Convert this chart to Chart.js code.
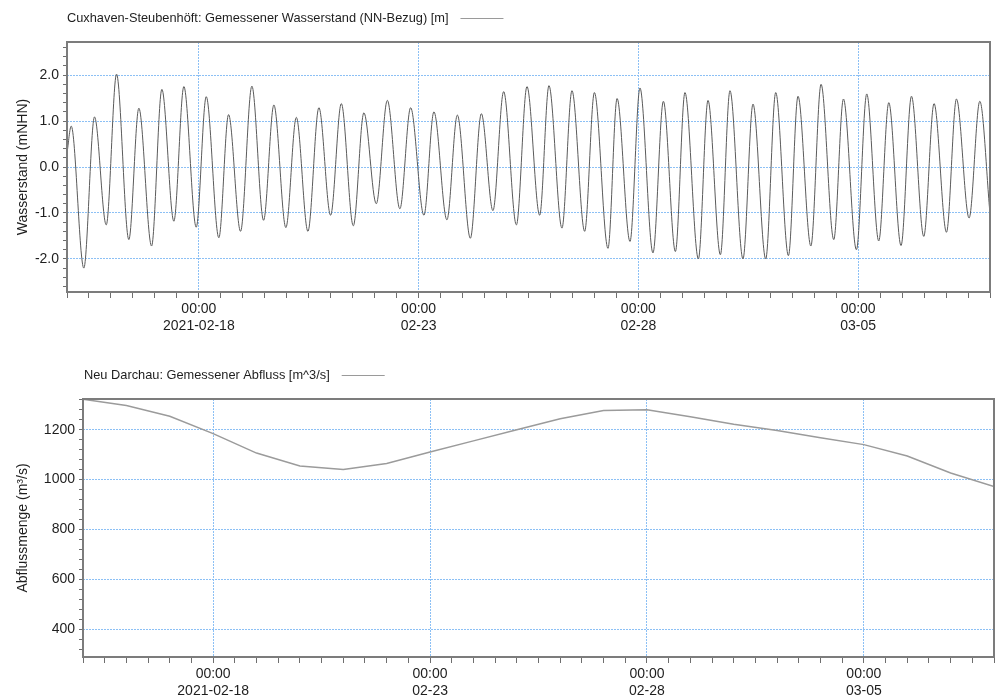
<!DOCTYPE html>
<html>
<head>
<meta charset="utf-8">
<script src="https://cdn.jsdelivr.net/npm/chart.js@4/dist/chart.umd.min.js"></script>
<style>
  html, body { margin: 0; padding: 0; background: #fff; overflow: hidden; width: 995px; height: 697px; }
  .box { position: absolute; left: 0; }
</style>
</head>
<body>
<div class="box" style="top:0"><canvas id="c1" width="995" height="345"></canvas></div>
<div class="box" style="top:345px"><canvas id="c2" width="997" height="352"></canvas></div>
<script>
// ---------- data ----------
const rangeStart = '2021-02-15T00:00';
const rangeEnd   = '2021-03-08T00:00';

const xLabelDates = ['2021-02-18T00:00', '2021-02-23T00:00', '2021-02-28T00:00', '2021-03-05T00:00'];
const xLabelTexts = [['00:00', '2021-02-18'], ['00:00', '02-23'], ['00:00', '02-28'], ['00:00', '03-05']];

const topTitle = 'Cuxhaven-Steubenhöft: Gemessener Wasserstand (NN-Bezug) [m]';
const topAxisTitle = 'Wasserstand (mNHN)';
const topYLabels = [-2.0, -1.0, 0.0, 1.0, 2.0];

// high / low water times and levels
const tideTimes = [
  '2021-02-15T00:00', '2021-02-15T02:18', '2021-02-15T09:11', '2021-02-15T15:01', '2021-02-15T21:26',
  '2021-02-16T03:03', '2021-02-16T09:46', '2021-02-16T15:14', '2021-02-16T22:11',
  '2021-02-17T03:48', '2021-02-17T10:21', '2021-02-17T15:49', '2021-02-17T22:34',
  '2021-02-18T04:02', '2021-02-18T10:55', '2021-02-18T16:13', '2021-02-18T22:46',
  '2021-02-19T04:57', '2021-02-19T11:20', '2021-02-19T16:58', '2021-02-19T23:31',
  '2021-02-20T05:13', '2021-02-20T11:33', '2021-02-20T17:33', '2021-02-20T23:56',
  '2021-02-21T05:47', '2021-02-21T12:20', '2021-02-21T18:07',
  '2021-02-22T00:53', '2021-02-22T06:55', '2021-02-22T13:46', '2021-02-22T19:38',
  '2021-02-23T02:54', '2021-02-23T08:21', '2021-02-23T15:27', '2021-02-23T21:09',
  '2021-02-24T04:15', '2021-02-24T10:15', '2021-02-24T16:35', '2021-02-24T22:26',
  '2021-02-25T05:23', '2021-02-25T11:10', '2021-02-25T18:06', '2021-02-25T23:10',
  '2021-02-26T06:16', '2021-02-26T11:44', '2021-02-26T18:40', '2021-02-26T23:59',
  '2021-02-27T07:24', '2021-02-27T12:22', '2021-02-27T19:25',
  '2021-02-28T00:52', '2021-02-28T07:58', '2021-02-28T13:39', '2021-02-28T20:13',
  '2021-03-01T01:26', '2021-03-01T08:46', '2021-03-01T14:01', '2021-03-01T20:47',
  '2021-03-02T02:01', '2021-03-02T09:07', '2021-03-02T14:35', '2021-03-02T21:32',
  '2021-03-03T03:00', '2021-03-03T09:56', '2021-03-03T15:10', '2021-03-03T22:11',
  '2021-03-04T03:45', '2021-03-04T10:41', '2021-03-04T15:58', '2021-03-04T23:04',
  '2021-03-05T04:42', '2021-03-05T11:15', '2021-03-05T16:44', '2021-03-05T23:25',
  '2021-03-06T05:07', '2021-03-06T11:50', '2021-03-06T17:27',
  '2021-03-07T00:14', '2021-03-07T05:41', '2021-03-07T12:35', '2021-03-07T18:26',
  '2021-03-08T00:00'
];
const tideLevels = [
  0.30, 0.89, -2.20, 1.09, -1.26,
  2.02, -1.58, 1.28, -1.72,
  1.69, -1.18, 1.75, -1.31,
  1.53, -1.54, 1.14, -1.40,
  1.76, -1.16, 1.35, -1.32,
  1.08, -1.40, 1.29, -1.05,
  1.38, -1.28, 1.18,
  -0.80, 1.45, -0.91, 1.29,
  -1.05, 1.20, -1.15, 1.13,
  -1.55, 1.16, -0.95, 1.64,
  -1.26, 1.75, -1.05, 1.77,
  -1.33, 1.66, -1.40, 1.62,
  -1.77, 1.49, -1.62,
  1.72, -1.87, 1.43, -1.84,
  1.62, -2.00, 1.45, -1.91,
  1.66, -2.00, 1.37, -2.00,
  1.62, -1.93, 1.54, -1.72,
  1.80, -1.58, 1.48, -1.80,
  1.59, -1.61, 1.40, -1.71,
  1.54, -1.51, 1.38,
  -1.42, 1.48, -1.11, 1.43,
  -1.02
];

const bottomTitle = 'Neu Darchau: Gemessener Abfluss [m^3/s]';
const bottomAxisTitle = 'Abflussmenge (m³/s)';
const bottomYLabels = [400, 600, 800, 1000, 1200];

const flowDates = [
  '2021-02-15T00:00', '2021-02-16T00:00', '2021-02-17T00:00', '2021-02-18T00:00', '2021-02-19T00:00',
  '2021-02-20T00:00', '2021-02-21T00:00', '2021-02-22T00:00', '2021-02-23T00:00', '2021-02-24T00:00',
  '2021-02-25T00:00', '2021-02-26T00:00', '2021-02-27T00:00', '2021-02-28T00:00', '2021-03-01T00:00',
  '2021-03-02T00:00', '2021-03-03T00:00', '2021-03-04T00:00', '2021-03-05T00:00', '2021-03-06T00:00',
  '2021-03-07T00:00', '2021-03-08T00:00'
];
const flowValues = [
  1322, 1297, 1254, 1184, 1106,
  1054, 1040, 1064, 1110, 1155,
  1200, 1244, 1277, 1280, 1252,
  1222, 1197, 1168, 1140, 1094,
  1026, 972
];

// ---------- helpers ----------
const t0 = Date.parse(rangeStart + ':00Z');
const hoursOf = s => (Date.parse(s + ':00Z') - t0) / 3600000;
const xMax = hoursOf(rangeEnd);
const xLabelHours = xLabelDates.map(hoursOf);

const FONT = "'Liberation Sans', Arial, sans-serif";
const GRID = 'rgb(140,192,245)';
const TICKC = '#6e6e6e';

function labelFor(v) {
  const i = xLabelHours.findIndex(h => Math.abs(h - v) < 0.01);
  return i >= 0 ? xLabelTexts[i] : '';
}

function stepsBetween(lo, hi, step) {
  const out = [];
  const a = Math.ceil(lo / step - 1e-9), b = Math.floor(hi / step + 1e-9);
  for (let i = a; i <= b; i++) out.push(Math.round(i * step * 1000) / 1000);
  return out;
}

const framePlugin = {
  id: 'frame',
  afterDraw(chart, args, opts) {
    const { ctx, chartArea: a } = chart;
    ctx.save();
    ctx.strokeStyle = '#7c7c7c';
    ctx.lineWidth = 2;
    ctx.strokeRect(a.left, a.top, a.right - a.left, a.bottom - a.top);
    // legend: text followed by a line sample
    ctx.font = opts.fontSize + 'px ' + FONT;
    ctx.fillStyle = '#1e1e1e';
    ctx.textBaseline = 'middle';
    ctx.textAlign = 'left';
    ctx.fillText(opts.text, opts.x, opts.y);
    const w = ctx.measureText(opts.text).width;
    ctx.strokeStyle = opts.lineColor;
    ctx.lineWidth = 1;
    ctx.beginPath();
    ctx.moveTo(opts.x + w + 12, opts.y + 0.5);
    ctx.lineTo(opts.x + w + 12 + 43, opts.y + 0.5);
    ctx.stroke();
    ctx.restore();
  }
};

function makeChart(id, cfg) {
  const xTicks = stepsBetween(0, xMax, 12);
  return new Chart(document.getElementById(id), {
    type: 'line',
    data: {
      datasets: [{
        data: cfg.xs.map((x, i) => ({ x: x, y: cfg.ys[i] })),
        borderColor: cfg.lineColor,
        borderWidth: cfg.lineWidth,
        pointRadius: 0,
        fill: false,
        cubicInterpolationMode: cfg.smooth ? 'monotone' : 'default',
        tension: 0
      }]
    },
    options: {
      responsive: false,
      animation: false,
      events: [],
      layout: { padding: cfg.padding },
      plugins: {
        legend: { display: false },
        tooltip: { enabled: false },
        frame: cfg.legend
      },
      scales: {
        x: {
          type: 'linear',
          min: 0,
          max: xMax,
          afterBuildTicks: s => { s.ticks = xTicks.map(v => ({ value: v })); },
          afterFit: s => { s.height = cfg.xHeight; },
          ticks: {
            autoSkip: false,
            maxRotation: 0,
            padding: 3,
            color: '#1e1e1e',
            font: { family: FONT, size: 14, lineHeight: 1.2 },
            callback: v => labelFor(v)
          },
          grid: {
            drawTicks: true,
            tickLength: 6,
            tickColor: TICKC,
            tickWidth: 1,
            lineWidth: 1,
            color: c => (c.tick && labelFor(c.tick.value) !== '') ? GRID : 'rgba(0,0,0,0)'
          },
          border: { display: false, dash: [2, 1] }
        },
        y: {
          type: 'linear',
          min: cfg.yMin,
          max: cfg.yMax,
          afterBuildTicks: s => { s.ticks = stepsBetween(cfg.yMin, cfg.yMax, cfg.yMinor).map(v => ({ value: v })); },
          afterFit: s => { s.width = cfg.yWidth; },
          title: {
            display: true,
            text: cfg.axisTitle,
            color: '#1e1e1e',
            font: { family: FONT, size: 14 },
            padding: { top: cfg.titlePad, bottom: 0 }
          },
          ticks: {
            autoSkip: false,
            padding: 4,
            color: '#1e1e1e',
            font: { family: FONT, size: 14 },
            callback: v => {
              const hit = cfg.yLabels.find(l => Math.abs(l - v) < 1e-6);
              return hit === undefined ? '' : cfg.fmt(hit);
            }
          },
          grid: {
            drawTicks: true,
            tickLength: 4,
            tickColor: TICKC,
            lineWidth: 1,
            color: c => (c.tick && cfg.yLabels.some(l => Math.abs(l - c.tick.value) < 1e-6)) ? GRID : 'rgba(0,0,0,0)'
          },
          border: { display: false, dash: [2, 1] }
        }
      }
    },
    plugins: [framePlugin]
  });
}

makeChart('c1', {
  xs: tideTimes.map(hoursOf),
  ys: tideLevels,
  smooth: true,
  lineColor: '#5a5a5a',
  lineWidth: 1,
  padding: { top: 42, right: 5, left: 0, bottom: 0 },
  xHeight: 53,
  yWidth: 67,
  yMin: -2.72,
  yMax: 2.72,
  yMinor: 0.2,
  yLabels: topYLabels,
  fmt: v => v.toFixed(1),
  axisTitle: topAxisTitle,
  titlePad: 15,
  legend: { text: topTitle, x: 67, y: 18, fontSize: 12.8, lineColor: '#9a9a9a' }
});

makeChart('c2', {
  xs: flowDates.map(hoursOf),
  ys: flowValues,
  smooth: false,
  lineColor: '#9b9b9b',
  lineWidth: 1.5,
  padding: { top: 54, right: 1, left: 0, bottom: 0 },
  xHeight: 40,
  yWidth: 83,
  yMin: 288,
  yMax: 1323,
  yMinor: 40,
  yLabels: bottomYLabels,
  fmt: v => String(v),
  axisTitle: bottomAxisTitle,
  titlePad: 15,
  legend: { text: bottomTitle, x: 84, y: 30, fontSize: 12.8, lineColor: '#9a9a9a' }
});
</script>
</body>
</html>
